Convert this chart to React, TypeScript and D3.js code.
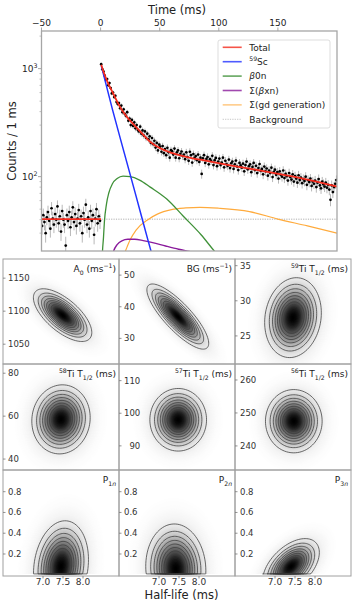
import * as d3 from "d3";

// ---------- decay curve (top panel) ----------
const TIME_TICKS = [-50, 0, 50, 100, 150];
const BACKGROUND_LEVEL = 40.4;

// counts per 1 ms bin, t = -50 ... -1
const PRE_COUNTS = [
  35, 44, 38, 30, 42, 47, 39, 33, 51, 41,
  36, 45, 40, 53, 37, 43, 31, 48, 40, 36,
  23, 44, 39, 47, 34, 42, 52, 38, 45, 35,
  41, 49, 37, 43, 30, 46, 40, 55, 36, 42,
  33, 48, 39, 44, 29, 41, 50, 37, 43, 39,
];

// counts per 1 ms bin, t = 0 ... 199
const DECAY_COUNTS = [
  1100, 985, 940, 860, 790, 800, 700, 735, 660, 590,
  600, 545, 560, 490, 470, 480, 430, 455, 395, 420,
  380, 365, 395, 330, 345, 300, 335, 295, 318, 280,
  300, 270, 262, 290, 250, 268, 240, 262, 228, 250,
  222, 236, 205, 228, 200, 215, 186, 205, 175, 198,
  190, 170, 192, 165, 180, 158, 185, 168, 150, 176,
  172, 160, 182, 150, 168, 175, 148, 163, 171, 155,
  160, 145, 168, 152, 140, 170, 158, 135, 162, 149,
  155, 142, 160, 137, 150, 106, 148, 158, 134, 146,
  152, 130, 145, 140, 156, 128, 142, 149, 125, 138,
  147, 128, 135, 150, 122, 140, 131, 126, 144, 120,
  133, 138, 118, 130, 141, 124, 115, 134, 127, 121,
  132, 112, 128, 138, 117, 125, 130, 110, 123, 134,
  115, 126, 108, 120, 131, 113, 118, 105, 124, 112,
  119, 102, 114, 108, 121, 99, 111, 116, 104, 110,
  96, 112, 104, 100, 114, 97, 106, 101, 92, 108,
  99, 94, 105, 90, 101, 96, 88, 103, 93, 98,
  87, 95, 91, 100, 84, 93, 89, 96, 82, 90,
  86, 92, 80, 88, 95, 83, 78, 90, 85, 81,
  88, 79, 84, 76, 61, 83, 72, 80, 86, 93,
];

// fit components, [time (ms), counts / ms]
const TOTAL_PRE: [number, number][] = [[-50, 40.4], [0.3, 40.4]];
const TOTAL_FIT: [number, number][] = [
  [0.6, 1085], [3, 900], [6, 745], [11, 578], [16, 450], [22, 360], [29, 295],
  [36, 245], [42, 210], [50, 184], [60, 166], [73, 152], [90, 140],
  [112, 126], [135, 114], [155, 104], [175, 94], [200, 81],
];
const SC59_FIT: [number, number][] = [
  [0.6, 1060], [10, 420], [20, 166], [30, 66], [40, 26], [50, 10.5],
];
const BETA0N_FIT: [number, number][] = [
  [0.4, 6], [1.2, 16], [2.5, 28], [3.2, 38], [5, 56], [7, 71], [10, 86], [14, 96],
  [19, 101], [25, 100], [33, 93], [42, 80], [56, 62], [70, 43], [85, 29],
  [97, 20], [110, 14],
];
const BETAXN_FIT: [number, number][] = [
  [7, 13], [9, 17], [11, 20.5], [14, 23.5], [18, 25.5], [23, 26.3], [29, 26.3],
  [36, 25.6], [44, 24.5], [55, 22.8], [66, 21.3], [75, 20.3], [90, 18.7],
];
const GD_FIT: [number, number][] = [
  [12, 10], [14, 12], [17, 16], [21, 20.5], [25, 26], [30, 32], [40, 40],
  [48, 45], [60, 49.5], [72, 51.3], [84, 52], [100, 51], [126, 47.5],
  [150, 40.5], [175, 35], [200, 30],
];

type Seg = { t: string; s?: "sub" | "sup"; i?: boolean };

const LEGEND_LABELS: Seg[][] = [
  [{ t: "Total" }],
  [{ t: "59", s: "sup" }, { t: "Sc" }],
  [{ t: "β", i: true }, { t: "0n" }],
  [{ t: "Σ(" }, { t: "β", i: true }, { t: "xn)" }],
  [{ t: "Σ(gd generation)" }],
  [{ t: "Background" }],
];
const LEGEND_COLORS = ["#f52a1c", "#2233ff", "#3f9138", "#8a1b9c", "#ffab3d", "#999999"];

// ---------- correlation panels ----------
const PANEL_TITLES: Seg[][] = [
  [{ t: "A" }, { t: "0", s: "sub" }, { t: " (ms" }, { t: "−1", s: "sup" }, { t: ")" }],
  [{ t: "BG (ms" }, { t: "−1", s: "sup" }, { t: ")" }],
  [{ t: "59", s: "sup" }, { t: "Ti T" }, { t: "1/2", s: "sub" }, { t: " (ms)" }],
  [{ t: "58", s: "sup" }, { t: "Ti T" }, { t: "1/2", s: "sub" }, { t: " (ms)" }],
  [{ t: "57", s: "sup" }, { t: "Ti T" }, { t: "1/2", s: "sub" }, { t: " (ms)" }],
  [{ t: "56", s: "sup" }, { t: "Ti T" }, { t: "1/2", s: "sub" }, { t: " (ms)" }],
  [{ t: "P" }, { t: "1", s: "sub" }, { t: "n", s: "sub", i: true }],
  [{ t: "P" }, { t: "2", s: "sub" }, { t: "n", s: "sub", i: true }],
  [{ t: "P" }, { t: "3", s: "sub" }, { t: "n", s: "sub", i: true }],
];
const PANEL_Y_DOMAINS = [
  [1020, 1179], [21.9, 55.1], [21, 35.95],
  [34.9, 84.3], [82.6, 115.1], [232.7, 264.85],
  [-0.012, 1.009], [-0.012, 1.009], [-0.012, 1.009],
];
const PANEL_Y_TICKS = [
  [1050, 1100, 1150], [30, 40, 50], [25, 30, 35],
  [40, 60, 80], [90, 100, 110], [240, 250, 260],
  [0.2, 0.4, 0.6, 0.8], [0.2, 0.4, 0.6, 0.8], [0.2, 0.4, 0.6, 0.8],
];
const HALF_LIFE_DOMAIN = [6.0, 8.9];
const HALF_LIFE_TICKS = [7.0, 7.5, 8.0];

// posterior blobs: centre, spread and correlation
const BLOB_T = [7.49, 7.47, 7.45, 7.45, 7.48, 7.47, 7.45, 7.42, 7.4];
const BLOB_Y = [1094, 36.9, 27.6, 58.5, 98, 247.5, 0.08, 0.06, 0.08];
const BLOB_SIGMA_T = [0.34, 0.36, 0.33, 0.34, 0.33, 0.33, 0.32, 0.35, 0.33];
const BLOB_SIGMA_Y = [18.6, 4.8, 2.65, 7.5, 4.47, 4.47, 0.205, 0.2, 0.125];
const BLOB_RHO = [-0.66, -0.82, 0.12, 0.05, 0, 0, 0.15, -0.05, 0.5];
const BLOB_FLOOR = [null, null, null, null, null, null, 0.008, 0.008, 0.008];
const CONTOUR_LEVELS = [0.1, 0.2, 0.3, 0.4, 0.5, 0.6, 0.7, 0.8];

const FONT = "DejaVu Sans, sans-serif";
const TOP = { left: 41.5, right: 337, top: 31, bottom: 251 };
const COL_X = [3, 119, 235];
const COL_W = 116;
const ROW_Y = [259, 364, 470];
const ROW_H = [105, 106, 106];

function Rich({ segs, fs }: { segs: Seg[]; fs: number }) {
  let cur = 0;
  return (
    <>
      {segs.map((g, k) => {
        const target = g.s === "sub" ? fs * 0.28 : g.s === "sup" ? -fs * 0.42 : 0;
        const dy = target - cur;
        cur = target;
        return (
          <tspan key={k} dy={dy} fontSize={g.s ? fs * 0.68 : fs} fontStyle={g.i ? "italic" : undefined}>
            {g.t}
          </tspan>
        );
      })}
    </>
  );
}

const textW = (s: string, fs: number) =>
  s.split("").reduce((a, c) => a + (c === "." ? 0.318 : 0.636), 0) * fs;

export default function App() {
  const x = d3.scaleLinear().domain([-50, 200]).range([TOP.left, TOP.right]);
  const y = d3.scaleLog().domain([20.5, 2230]).range([TOP.bottom, TOP.top]);
  const line = d3
    .line<[number, number]>()
    .x((d) => x(d[0]))
    .y((d) => y(d[1]))
    .curve(d3.curveMonotoneX);

  const bins: [number, number][] = [
    ...PRE_COUNTS.map((c, i) => [-49.5 + i, c] as [number, number]),
    ...DECAY_COUNTS.map((c, i) => [0.5 + i, c] as [number, number]),
  ];

  const yTicks = y.ticks();
  const isMajor = (v: number) => Math.abs(Math.log10(v) - Math.round(Math.log10(v))) < 1e-9;

  const axisGray = "#a6a6a6";

  return (
    <svg
      width={357}
      height={604}
      style={{ position: "absolute", left: 0, top: 0, background: "#fff" }}
      fontFamily={FONT}
    >
      <defs>
        <clipPath id="top-clip">
          <rect x={TOP.left} y={TOP.top} width={TOP.right - TOP.left} height={TOP.bottom - TOP.top} />
        </clipPath>
        {PANEL_TITLES.map((_, p) => (
          <clipPath id={`pc${p}`} key={p}>
            <rect x={COL_X[p % 3]} y={ROW_Y[Math.floor(p / 3)]} width={COL_W} height={ROW_H[Math.floor(p / 3)]} />
          </clipPath>
        ))}
      </defs>

      {/* ---------- top decay plot ---------- */}
      <g clipPath="url(#top-clip)">
        <line
          x1={TOP.left}
          x2={TOP.right}
          y1={y(BACKGROUND_LEVEL)}
          y2={y(BACKGROUND_LEVEL)}
          stroke="#8c8c8c"
          strokeWidth={0.7}
          strokeDasharray="1.2,1.2"
        />
        {bins.map(([t, c], i) => {
          const e = Math.sqrt(c);
          return (
            <line key={"e" + i} x1={x(t)} x2={x(t)} y1={y(c + e)} y2={y(c - e)} stroke="#b8b8b8" strokeWidth={1} />
          );
        })}
        {bins.map(([t, c], i) => (
          <circle key={"p" + i} cx={x(t)} cy={y(c)} r={1.35} fill="#000" />
        ))}
        <path d={line(GD_FIT) ?? ""} fill="none" stroke={LEGEND_COLORS[4]} strokeWidth={1.2} />
        <path d={line(BETAXN_FIT) ?? ""} fill="none" stroke={LEGEND_COLORS[3]} strokeWidth={1.4} />
        <path d={line(BETA0N_FIT) ?? ""} fill="none" stroke={LEGEND_COLORS[2]} strokeWidth={1.3} />
        <path d={line(SC59_FIT) ?? ""} fill="none" stroke={LEGEND_COLORS[1]} strokeWidth={1.5} />
        <path d={line(TOTAL_PRE) ?? ""} fill="none" stroke={LEGEND_COLORS[0]} strokeWidth={1.8} />
        <path d={line(TOTAL_FIT) ?? ""} fill="none" stroke={LEGEND_COLORS[0]} strokeWidth={1.8} />
      </g>

      <rect
        x={TOP.left}
        y={TOP.top}
        width={TOP.right - TOP.left}
        height={TOP.bottom - TOP.top}
        fill="none"
        stroke={axisGray}
        strokeWidth={1.3}
      />

      {/* x axis on top */}
      {TIME_TICKS.map((t) => (
        <g key={t}>
          <line x1={x(t)} x2={x(t)} y1={TOP.top} y2={TOP.top - 3.5} stroke={axisGray} strokeWidth={1} />
          <text x={x(t)} y={26} textAnchor="middle" fontSize={9} fill="#222">
            {t < 0 ? "−" + Math.abs(t) : t}
          </text>
        </g>
      ))}
      <text x={177} y={14} textAnchor="middle" fontSize={11.5} fill="#222">
        Time (ms)
      </text>

      {/* log y axis */}
      {yTicks.map((v, i) => {
        const major = isMajor(v);
        return (
          <line
            key={i}
            x1={TOP.left}
            x2={TOP.left - (major ? 3.5 : 2)}
            y1={y(v)}
            y2={y(v)}
            stroke={axisGray}
            strokeWidth={major ? 1 : 0.7}
          />
        );
      })}
      {yTicks.filter(isMajor).map((v) => (
        <text key={v} x={37.5} y={y(v) + 3} textAnchor="end" fontSize={9} fill="#222">
          10
          <tspan dy={-4} fontSize={6.3}>
            {Math.round(Math.log10(v))}
          </tspan>
        </text>
      ))}
      <text
        transform={`translate(12,${(TOP.top + TOP.bottom) / 2}) rotate(-90)`}
        textAnchor="middle"
        dominantBaseline="central"
        fontSize={11.5}
        fill="#222"
      >
        Counts / 1 ms
      </text>

      {/* legend */}
      <rect x={218} y={40} width={112} height={88} rx={2} fill="#fff" fillOpacity={0.85} stroke="#d4d4d4" strokeWidth={0.8} />
      {LEGEND_LABELS.map((segs, i) => {
        const ly = 47.3 + i * 14.4;
        const bg = i === 5;
        return (
          <g key={i}>
            <line
              x1={222.7}
              x2={241.7}
              y1={ly}
              y2={ly}
              stroke={LEGEND_COLORS[i]}
              strokeWidth={bg ? 0.7 : i === 4 ? 1.2 : 1.6}
              strokeDasharray={bg ? "1.2,1.2" : undefined}
              opacity={0.8}
            />
            <text x={249.3} y={ly + 3.3} fontSize={9} fill="#222">
              <Rich segs={segs} fs={9} />
            </text>
          </g>
        );
      })}

      {/* ---------- correlation panels ---------- */}
      {PANEL_TITLES.map((title, p) => {
        const col = p % 3;
        const row = Math.floor(p / 3);
        const left = COL_X[col];
        const top = ROW_Y[row];
        const h = ROW_H[row];
        const px = d3.scaleLinear().domain(HALF_LIFE_DOMAIN).range([left, left + COL_W]);
        const py = d3.scaleLinear().domain(PANEL_Y_DOMAINS[p]).range([top + h, top]);
        const cx = BLOB_T[p];
        const cy = BLOB_Y[p];
        const sx = BLOB_SIGMA_T[p];
        const sy = BLOB_SIGMA_Y[p];
        const rho = BLOB_RHO[p];
        const floor = BLOB_FLOOR[p];
        const q = Math.sqrt(1 - rho * rho);
        const ring = (r: number) => {
          const pts: [number, number][] = d3.range(0, 96).map((k) => {
            const th = (2 * Math.PI * k) / 96;
            const tv = cx + r * sx * Math.cos(th);
            let yv = cy + r * sy * (rho * Math.cos(th) + q * Math.sin(th));
            if (floor !== null) yv = Math.max(yv, floor);
            return [px(tv), py(yv)];
          });
          return d3.line().curve(d3.curveLinearClosed)(pts) ?? "";
        };
        const shades = d3.range(3.4, 0, -0.07);
        const fmt = PANEL_Y_TICKS[p].some((v) => !Number.isInteger(v)) ? d3.format(".1f") : d3.format("d");
        const labels = PANEL_Y_TICKS[p].map((v) => fmt(v));
        const labelRight = left + 5 + Math.max(...labels.map((s) => textW(s, 8.5)));
        return (
          <g key={p}>
            <g clipPath={`url(#pc${p})`}>
              {shades.map((r, k) => (
                <path key={k} d={ring(r)} fill={d3.interpolateGreys(Math.pow(Math.exp((-r * r) / 2), 0.8))} />
              ))}
              {CONTOUR_LEVELS.map((lv) => (
                <path
                  key={lv}
                  d={ring(Math.sqrt(-2 * Math.log(lv)))}
                  fill="none"
                  stroke="#3a3a3a"
                  strokeWidth={0.75}
                />
              ))}
            </g>
            <rect x={left} y={top} width={COL_W} height={h} fill="none" stroke="#a0a0a0" strokeWidth={1} />
            {PANEL_Y_TICKS[p].map((v, k) => (
              <g key={k}>
                <line x1={left} x2={left + 2.5} y1={py(v)} y2={py(v)} stroke="#777" strokeWidth={0.8} />
                <text x={labelRight} y={py(v)} textAnchor="end" dominantBaseline="central" fontSize={8.5} fill="#333">
                  {labels[k]}
                </text>
              </g>
            ))}
            <text x={left + COL_W - 3} y={top + 13} textAnchor="end" fontSize={9} fill="#222">
              <Rich segs={title} fs={9} />
            </text>
            {row === 2 &&
              HALF_LIFE_TICKS.map((t) => (
                <g key={t}>
                  <line x1={px(t)} x2={px(t)} y1={top + h} y2={top + h + 2.5} stroke="#777" strokeWidth={0.8} />
                  <text x={px(t)} y={585} textAnchor="middle" fontSize={9} fill="#333">
                    {d3.format(".1f")(t)}
                  </text>
                </g>
              ))}
          </g>
        );
      })}
      <text x={181.5} y={599} textAnchor="middle" fontSize={11.5} fill="#222">
        Half-life (ms)
      </text>
    </svg>
  );
}
